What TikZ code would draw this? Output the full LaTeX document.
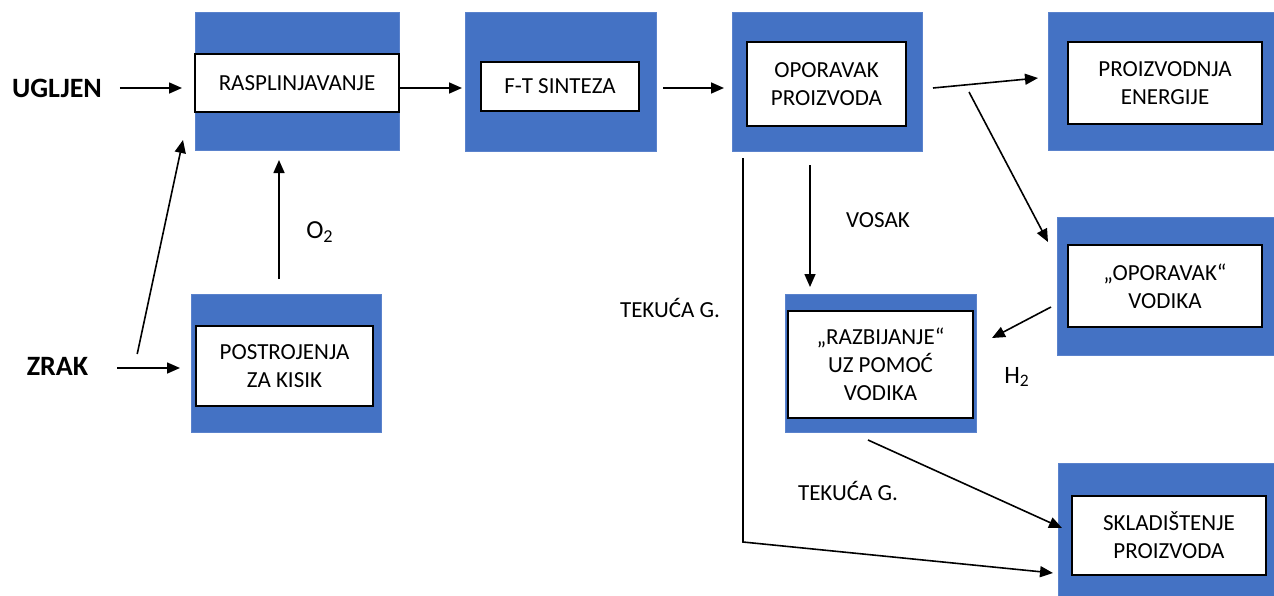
\documentclass[tikz,border=0pt]{standalone}
\usepackage{fontspec}
\setmainfont{Carlito}
\usetikzlibrary{arrows.meta}
\definecolor{blueF}{HTML}{4472C4}
\definecolor{blueD}{HTML}{5A82CC}
\newcommand{\boxfont}{\fontsize{11.5}{14}\selectfont}
\newcommand{\sidefont}{\fontsize{14}{16}\selectfont\bfseries}
\tikzset{
  outerbox/.style={rectangle, fill=blueF, draw=blueD, line width=0.4pt, inner sep=0pt, outer sep=0pt},
  innerbox/.style={rectangle, fill=white, draw=black, line width=1pt, inner sep=0pt, outer sep=0pt, align=center, font=\boxfont},
  lbl/.style={inner sep=0pt, outer sep=0pt, font=\boxfont},
  side/.style={inner sep=0pt, outer sep=0pt, font=\sidefont},
  arr/.style={draw=black, line width=0.8pt, -{Triangle[length=6.5pt,width=5.5pt]}}
}
\begin{document}
\begin{tikzpicture}[x=0.5pt,y=-0.5pt]
\useasboundingbox (0,0) rectangle (1274,595);
% outer blue boxes
\node[outerbox, minimum width=102pt, minimum height=69pt] (rasp) at (297,81) {};
\node[outerbox, minimum width=95.5pt, minimum height=69.5pt] (ft) at (560.5,81.5) {};
\node[outerbox, minimum width=95pt, minimum height=69.5pt] (opor) at (827,81.5) {};
\node[outerbox, minimum width=115pt, minimum height=69pt] (energ) at (1163,81) {};
\node[outerbox, minimum width=110.5pt, minimum height=69pt] (hvod) at (1167.5,286) {};
\node[outerbox, minimum width=95pt, minimum height=69pt] (kisik) at (286,363) {};
\node[outerbox, minimum width=95.5pt, minimum height=69pt] (razb) at (880.5,363) {};
\node[outerbox, minimum width=110pt, minimum height=68pt] (skl) at (1168,531) {};
% inner white boxes with text
\node[innerbox, minimum width=102pt, minimum height=29pt] (raspT) at (297,83) {RASPLINJAVANJE};
\node[innerbox, minimum width=79pt, minimum height=24.5pt] (ftT) at (560,86.5) {F-T SINTEZA};
\node[innerbox, minimum width=79.5pt, minimum height=42pt] (oporT) at (826.5,84) {OPORAVAK\\PROIZVODA};
\node[innerbox, minimum width=97pt, minimum height=41pt] (energT) at (1165,83) {PROIZVODNJA\\ENERGIJE};
\node[innerbox, minimum width=97pt, minimum height=41pt] (hvodT) at (1165,286) {„OPORAVAK“\\VODIKA};
\node[innerbox, minimum width=88.5pt, minimum height=40pt] (kisikT) at (284.5,366) {POSTROJENJA\\ZA KISIK};
\node[innerbox, minimum width=92.5pt, minimum height=53.5pt] (razbT) at (880.5,364.5) {„RAZBIJANJE“\\UZ POMOĆ\\VODIKA};
\node[innerbox, minimum width=97pt, minimum height=39.5pt] (sklT) at (1169,535.5) {SKLADIŠTENJE\\PROIZVODA};
% side labels
\node[side] (ugljen) at (57,88) {UGLJEN};
\node[side] (zrak) at (57.5,366) {ZRAK};
\node[lbl, font=\fontsize{13}{15}\selectfont] (o2) at (320,232) {O\textsubscript{2}};
\node[lbl, font=\fontsize{12.5}{15}\selectfont] (h2) at (1017,377) {H\textsubscript{2}};
\node[lbl] (vosak) at (878,220) {VOSAK};
\node[lbl] (tek1) at (670,308) {TEKUĆA G.};
\node[lbl] (tek2) at (848,491) {TEKUĆA G.};
% connectors
\draw[arr, shorten <=9pt, shorten >=6.5pt] (ugljen.east) -- (ugljen.east -| rasp.west);
\draw[arr, shorten <=0.5pt, shorten >=1.5pt] ([yshift=-3.5pt]rasp.east) -- ([yshift=-3.5pt]rasp.east -| ft.west);
\draw[arr, shorten <=3.5pt, shorten >=4pt] ([yshift=-3.25pt]ft.east) -- ([yshift=-3.25pt]ft.east -| opor.west);
\draw[arr] ([shift={(5.5pt,-3.25pt)}]opor.east) -- ([shift={(-5pt,1.5pt)}]energ.west);
\draw[arr] ([shift={(23.5pt,-5.25pt)}]opor.east) -- ([shift={(-4.5pt,-12.5pt)}]hvod.north west);
\draw[arr] ([shift={(-3pt,-10.5pt)}]hvod.west) -- ([shift={(8pt,12.5pt)}]razb.east);
\draw[arr, shorten >=3.5pt] ([shift={(-8.5pt,-7pt)}]opor.south) coordinate (v0) -- (v0 |- razb.north);
\coordinate (bend) at (743,542);
\draw[arr] ([shift={(5.5pt,-3.5pt)}]opor.south west) -- (bend) -- ([shift={(-2.5pt,-21pt)}]skl.west);
\draw[arr] ([shift={(-6.25pt,-4pt)}]razb.south) -- ([shift={(2pt,1.5pt)}]skl.west);
\draw[arr, shorten <=14.5pt, shorten >=5.5pt] ([yshift=-1pt]zrak.east) -- ([yshift=-1pt]zrak.east -| kisik.west);
\draw[arr] ([shift={(24.5pt,6pt)}]zrak.east) -- ([shift={(-6pt,5pt)}]rasp.south west);
\draw[arr, shorten >=5pt] ([shift={(-3.5pt,7.5pt)}]kisik.north) coordinate (o0) -- (o0 |- rasp.south);
\end{tikzpicture}
\end{document}
